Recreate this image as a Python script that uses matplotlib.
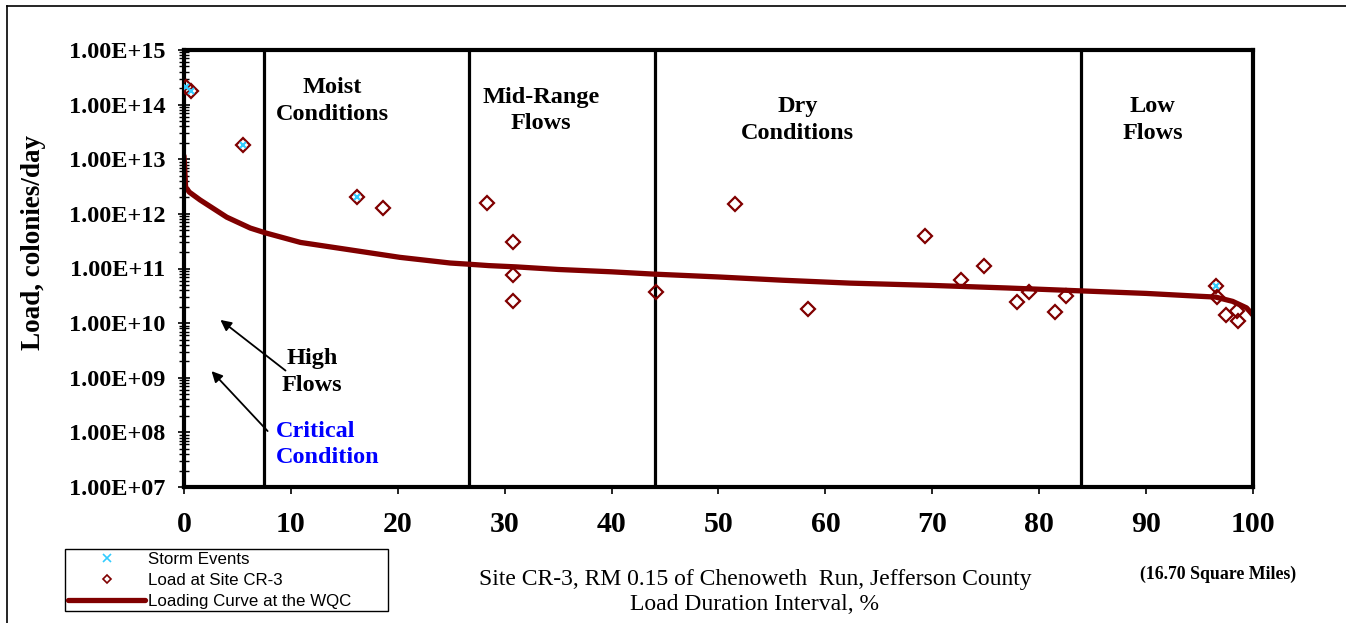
import math
import matplotlib
matplotlib.use("Agg")
import matplotlib.pyplot as plt
from matplotlib.lines import Line2D
from matplotlib.ticker import LogLocator, FuncFormatter, NullFormatter, MultipleLocator

# Loading curve at the WQC
curveX = [0, 0.1, 0.15, 0.5, 1.5, 4.0, 6.2, 7.6, 10.9, 15.5, 20.2, 24.9, 26.6, 28.5, 31.1,
          35, 40, 43.9, 50, 56, 62.3, 70, 77, 83.8, 90, 95.0, 96.5, 98.1, 99.4, 100]
curveY = [1.15e13, 5e12, 3.1e12, 2.5e12, 1.8e12, 8.7e11, 5.5e11, 4.5e11, 3.0e11, 2.2e11,
          1.6e11, 1.26e11, 1.2e11, 1.13e11, 1.07e11, 9.6e10, 8.7e10, 7.9e10, 7.0e10,
          6.1e10, 5.4e10, 4.9e10, 4.4e10, 3.9e10, 3.5e10, 3.1e10, 3.0e10, 2.5e10, 1.9e10, 1.4e10]

# Load at Site CR-3
loadX = [0.2, 0.7, 5.5, 16.2, 18.6, 28.3, 30.8, 30.8, 30.8, 44.2, 51.5, 58.4, 69.3,
         72.7, 74.8, 77.9, 79.0, 81.5, 82.5, 96.5, 96.6, 97.5, 98.5, 98.6]
loadY = [2.1e14, 1.8e14, 1.8e13, 2.0e12, 1.3e12, 1.6e12, 3.0e11, 7.6e10, 2.5e10, 3.7e10,
         1.5e12, 1.8e10, 4.0e11, 6.2e10, 1.1e11, 2.4e10, 3.7e10, 1.6e10, 3.1e10, 4.8e10,
         3.0e10, 1.4e10, 1.7e10, 1.1e10]

# Storm events
stormX = [0.2, 0.7, 5.5, 16.2, 96.5]
stormY = [2.1e14, 1.8e14, 1.8e13, 2.0e12, 4.8e10]

# flow zone boundaries
zoneEdges = [7.5, 26.7, 44.1, 83.9]

darkred = "#800000"
serif = "Liberation Serif"

fig = plt.figure(figsize=(13.46, 6.23), dpi=100)
ax = fig.add_axes([184 / 1346, 1 - 487 / 623, 1069 / 1346, 437 / 623])

ax.plot(curveX, curveY, color=darkred, lw=3.8, solid_capstyle="round", zorder=2)
ax.plot(loadX, loadY, ls="none", marker="D", ms=7.5, mfc="none", mec=darkred, mew=1.6, zorder=3)
ax.plot(stormX, stormY, ls="none", marker="x", ms=5, mec="#33ccff", mew=1.5, zorder=4)

for xv in zoneEdges:
    ax.axvline(xv, color="black", lw=2.3, zorder=1)

ax.set_yscale("log")
ax.set_xlim(0, 100)
ax.set_ylim(1e7, 1e15)
ax.xaxis.set_major_locator(MultipleLocator(10))
ax.yaxis.set_major_locator(LogLocator(base=10, numticks=20))
ax.yaxis.set_minor_locator(LogLocator(base=10, subs=range(2, 10), numticks=100))
ax.yaxis.set_minor_formatter(NullFormatter())
ax.yaxis.set_major_formatter(FuncFormatter(lambda v, p: "1.00E+%02d" % round(math.log10(v))))

for s in ax.spines.values():
    s.set_linewidth(3)
ax.tick_params(axis="x", direction="out", length=5, width=1.2, pad=12)
ax.tick_params(axis="y", which="major", direction="inout", length=9, width=1.2, pad=9)
ax.tick_params(axis="y", which="minor", direction="inout", length=7, width=1.0)
for lab in ax.get_xticklabels():
    lab.set_fontfamily(serif); lab.set_fontweight("bold"); lab.set_fontsize(21.5)
for lab in ax.get_yticklabels():
    lab.set_fontfamily(serif); lab.set_fontweight("bold"); lab.set_fontsize(17.5)

# zone labels
bold = dict(family=serif, fontweight="bold", fontsize=17.5, ha="center", va="center", linespacing=1.35)
ax.text(13.9, 10**14.07, "Moist\nConditions", **bold)
ax.text(33.4, 10**13.89, "Mid-Range\nFlows", **bold)
ax.text(57.4, 10**13.72, "Dry\nConditions", **bold)
ax.text(90.6, 10**13.72, "Low\nFlows", **bold)
ax.text(12.0, 10**9.11, "High\nFlows", **bold)
ax.text(8.6, 10**7.78, "Critical\nCondition", family=serif, fontweight="bold", fontsize=17.5,
        color="#0000ff", ha="left", va="center", linespacing=1.35)

arrow = dict(arrowstyle="-|>", color="black", lw=1.3, mutation_scale=16)
ax.annotate("", xy=(3.2, 1.23e10), xytext=(9.7, 1.26e9), arrowprops=arrow)
ax.annotate("", xy=(2.4, 1.44e9), xytext=(8.0, 9.7e7), arrowprops=arrow)

# axis titles
fig.text(34 / 1346, 1 - 243 / 623, "Load, colonies/day", rotation=90, family=serif,
         fontweight="bold", fontsize=19.5, ha="center", va="center")
fig.text(755 / 1346, 1 - 592 / 623, "Site CR-3, RM 0.15 of Chenoweth  Run, Jefferson County\nLoad Duration Interval, %",
         family=serif, fontsize=17, ha="center", va="center", linespacing=1.3)
fig.text(1218 / 1346, 1 - 574 / 623, "(16.70 Square Miles)", family=serif, fontweight="bold",
         fontsize=12.8, ha="center", va="center")

# legend
handles = [Line2D([], [], ls="none", marker="x", ms=6, mec="#33ccff", mew=1.2),
           Line2D([], [], ls="none", marker="D", ms=4, mfc="none", mec=darkred, mew=1.2),
           Line2D([], [], color=darkred, lw=3.8, solid_capstyle="round")]
leg = fig.legend(handles, ["Storm Events", "Load at Site CR-3", "Loading Curve at the WQC"],
                 loc="upper left", bbox_to_anchor=(65 / 1346, 13 / 623, 323 / 1346, 61 / 623),
                 mode="expand", prop={"family": "Liberation Sans", "size": 12.2}, fancybox=False,
                 edgecolor="black", framealpha=1, borderpad=0.15, labelspacing=0.36,
                 handlelength=4.6, handletextpad=0.15, borderaxespad=0)
leg.get_frame().set_linewidth(1.0)

# outer frame lines
fig.add_artist(Line2D([7 / 1346, 7 / 1346], [0, 1 - 6 / 623], color="black", lw=1.2))
fig.add_artist(Line2D([7 / 1346, 1], [1 - 6 / 623, 1 - 6 / 623], color="black", lw=1.2))

fig.savefig("out.png", dpi=100)
